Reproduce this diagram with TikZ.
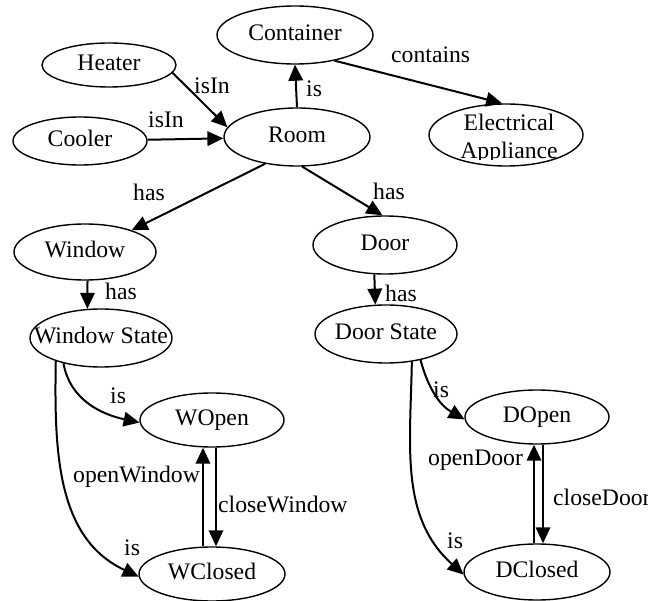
\documentclass[tikz,border=0pt]{standalone}
\usepackage{fontspec}
\setmainfont{Liberation Serif}
\usetikzlibrary{arrows.meta,shapes.geometric}

\begin{document}
\begin{tikzpicture}[x=1pt,y=-1pt,
  font=\fontsize{23.7}{28}\selectfont,
  concept/.style={draw, ellipse, line width=1.4pt, inner sep=0pt,
                  text height=11pt, text depth=0pt},
  rel/.style={line width=2pt, -{Triangle[length=16pt,width=14.5pt]}},
  lbl/.style={inner sep=0pt, anchor=base west}]

\useasboundingbox (0,0) rectangle (648,601);

% concepts
\node[concept, minimum width=156pt, minimum height=58pt] (container) at (295,35)  {\makebox[0pt]{Container}};
\node[concept, minimum width=134pt, minimum height=44pt] (heater)    at (109,65)  {\makebox[0pt]{Heater}};
\node[concept, minimum width=134pt, minimum height=48pt] (cooler)    at (80,141)  {\makebox[0pt]{Cooler}};
\node[concept, minimum width=146pt, minimum height=58pt] (room)      at (297,137) {\makebox[0pt]{Room}};
\node[concept, minimum width=154pt, minimum height=62pt] (ea)        at (506,135) {};
\node[concept, minimum width=142pt, minimum height=56pt] (window)    at (85,252)  {\makebox[0pt]{Window}};
\node[concept, minimum width=142pt, minimum height=58pt] (ws)        at (101,338) {\makebox[0pt]{Window State}};
\node[concept, minimum width=144pt, minimum height=58pt] (door)      at (385,245) {\makebox[0pt]{Door}};
\node[concept, minimum width=142pt, minimum height=58pt] (ds)        at (386,334) {\makebox[0pt]{Door State}};
\node[concept, minimum width=144pt, minimum height=54pt] (wopen)     at (212,420) {\makebox[0pt]{WOpen}};
\node[concept, minimum width=146pt, minimum height=54pt] (wclosed)   at (212,574) {\makebox[0pt]{WClosed}};
\node[concept, minimum width=144pt, minimum height=54pt] (dopen)     at (537,417) {\makebox[0pt]{DOpen}};
\node[concept, minimum width=146pt, minimum height=56pt] (dclosed)   at (537,572) {\makebox[0pt]{DClosed}};

% two-line text of the appliance node, cut off at its lower edge
\begin{scope}
  \clip (420,100) rectangle (600,159.5);
  \node[inner sep=0pt, anchor=base] (ea1) at (509,130.5) {Electrical};
  \node[inner sep=0pt, anchor=base] (ea2) at (509,159)   {Appliance};
\end{scope}

% relations
\draw[rel] (heater.-7) -- (room.172);
\draw[rel] (cooler) -- (room);
\draw[rel] (room.north) -- (container.south);
\draw[rel] (container.-33) -- (ea.97);
\draw[rel] (room.220) -- (window.25);
\draw[rel] (room.-80) -- (door.95);
\draw[rel] (window.-85) -- (ws.115);
\draw[rel] (door.-110) -- (ds.110);
\draw[rel] (ws.-146) to[out=-80, in=168] (wopen.182);
\draw[rel] (ws.-153) to[out=-91, in=155] (wclosed.182);
\draw[rel] (ds.-37) to[out=-75, in=150] (dopen.182);
\draw[rel] (ds.-47) to[out=-91, in=138] (dclosed.182);
\draw[rel] ([xshift=-9pt]wclosed.north) -- ([xshift=-9pt]wopen.south);
\draw[rel] ([xshift=4pt]wopen.south) -- ([xshift=4pt]wclosed.north);
\draw[rel] ([xshift=-3pt]dclosed.north) -- ([xshift=-3pt]dopen.south);
\draw[rel] ([xshift=6pt]dopen.south) -- ([xshift=6pt]dclosed.north);

% relation labels
\node[lbl] (l-isin1)  at (194,94)  {isIn};
\node[lbl] (l-isin2)  at (148,128) {isIn};
\node[lbl] (l-is1)    at (306,97)  {is};
\node[lbl] (l-cont)   at (391,63)  {contains};
\node[lbl] (l-has1)   at (133,201) {has};
\node[lbl] (l-has2)   at (373,200) {has};
\node[lbl] (l-has3)   at (105,300) {has};
\node[lbl] (l-has4)   at (385,302) {has};
\node[lbl] (l-is2)    at (110,403) {is};
\node[lbl] (l-is3)    at (124,555) {is};
\node[lbl] (l-is4)    at (433,398) {is};
\node[lbl] (l-is5)    at (447,548) {is};
\node[lbl] (l-ow)     at (73,482)  {openWindow};
\node[lbl] (l-cw)     at (218,512) {closeWindow};
\node[lbl] (l-od)     at (428,465) {openDoor};
\node[lbl] (l-cd)     at (553,505) {closeDoor};
\end{tikzpicture}
\end{document}
